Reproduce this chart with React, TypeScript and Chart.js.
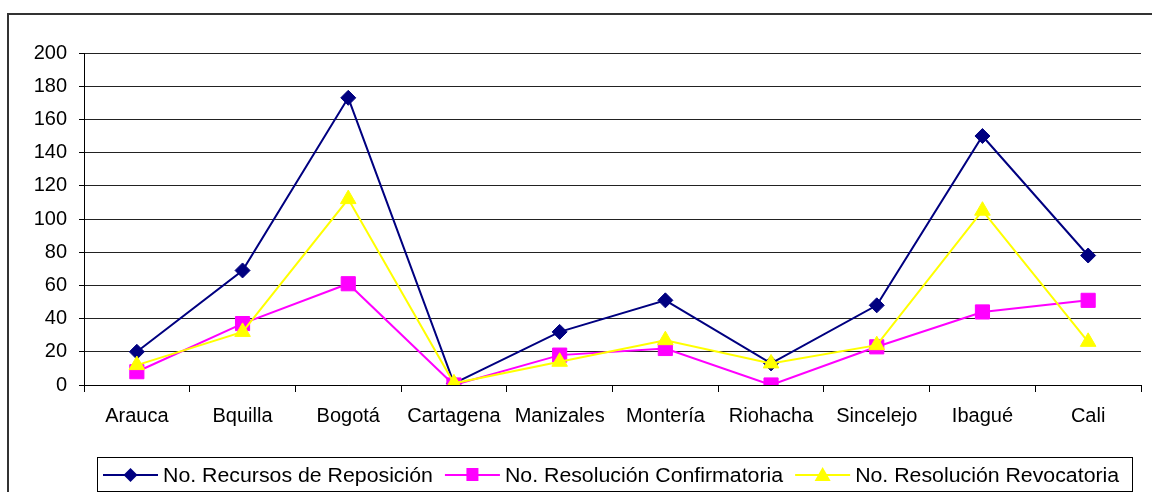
import React, { useEffect, useRef } from "react";
import { Chart, registerables } from "chart.js";

Chart.register(...registerables);

const categories = ["Arauca", "Bquilla", "Bogotá", "Cartagena", "Manizales", "Montería", "Riohacha", "Sincelejo", "Ibagué", "Cali"];
const recursosReposicion = [20, 69, 173, 1, 32, 51, 13, 48, 150, 78];
const resolucionConfirmatoria = [8, 37, 61, 0, 18, 22, 0, 23, 44, 51];
const resolucionRevocatoria = [12, 32, 112, 1, 14, 27, 13, 24, 105, 26];
const seriesNames = ["No. Recursos de Reposición", "No. Resolución Confirmatoria", "No. Resolución Revocatoria"];
const yTicks = [0, 20, 40, 60, 80, 100, 120, 140, 160, 180, 200];

const FONT = '"Liberation Sans", Arial, sans-serif';

const frameAndLegend = {
  id: "frameAndLegend",
  afterDraw(chart: any) {
    const ctx = chart.ctx as CanvasRenderingContext2D;
    ctx.save();
    // outer frame
    ctx.strokeStyle = "#333";
    ctx.lineWidth = 2;
    ctx.beginPath();
    ctx.moveTo(8, 500);
    ctx.lineTo(8, 14);
    ctx.lineTo(1160, 14);
    ctx.stroke();

    // legend
    const boxL = 97, boxT = 457, boxR = 1132, boxB = 491;
    ctx.fillStyle = "#fff";
    ctx.fillRect(boxL, boxT, boxR - boxL, boxB - boxT);
    ctx.strokeStyle = "#000";
    ctx.lineWidth = 1;
    ctx.strokeRect(boxL + 0.5, boxT + 0.5, boxR - boxL, boxB - boxT);

    ctx.font = `20px ${FONT}`;
    ctx.textBaseline = "middle";
    ctx.textAlign = "left";
    const stretch = 1.065;
    const cy = 475;
    let x = 103;
    chart.data.datasets.forEach((ds: any) => {
      const lineLen = 55;
      ctx.strokeStyle = ds.borderColor;
      ctx.lineWidth = 2;
      ctx.beginPath();
      ctx.moveTo(x, cy);
      ctx.lineTo(x + lineLen, cy);
      ctx.stroke();
      const mx = x + lineLen / 2;
      ctx.fillStyle = ds.backgroundColor;
      ctx.beginPath();
      if (ds.pointStyle === "rectRot") {
        ctx.moveTo(mx, cy - 7);
        ctx.lineTo(mx + 7, cy);
        ctx.lineTo(mx, cy + 7);
        ctx.lineTo(mx - 7, cy);
      } else if (ds.pointStyle === "rect") {
        ctx.rect(mx - 6, cy - 7, 12, 13);
      } else {
        ctx.moveTo(mx, cy - 8);
        ctx.lineTo(mx + 8, cy + 6);
        ctx.lineTo(mx - 8, cy + 6);
      }
      ctx.closePath();
      ctx.fill();
      ctx.fillStyle = "#000";
      const tx = x + lineLen + 5;
      ctx.save();
      ctx.translate(tx, cy + 1);
      ctx.scale(stretch, 1);
      ctx.fillText(ds.label, 0, 0);
      ctx.restore();
      x = tx + ctx.measureText(ds.label).width * stretch + 12;
    });
    ctx.restore();
  },
};

export default function App() {
  const ref = useRef<HTMLCanvasElement>(null);
  useEffect(() => {
    if (!ref.current) return;
    const chart = new Chart(ref.current, {
      type: "line",
      data: {
        labels: categories,
        datasets: [
          {
            label: seriesNames[0],
            data: recursosReposicion,
            borderColor: "#000080",
            backgroundColor: "#000080",
            pointStyle: "rectRot",
            pointRadius: 7.5,
            pointBorderWidth: 1,
            borderWidth: 2,
            order: 3,
          },
          {
            label: seriesNames[1],
            data: resolucionConfirmatoria,
            borderColor: "#FF00FF",
            backgroundColor: "#FF00FF",
            pointStyle: "rect",
            pointRadius: 10,
            pointBorderWidth: 1,
            borderWidth: 2,
            order: 2,
          },
          {
            label: seriesNames[2],
            data: resolucionRevocatoria,
            borderColor: "#FFFF00",
            backgroundColor: "#FFFF00",
            pointStyle: "triangle",
            pointRadius: 9,
            pointBorderWidth: 1,
            borderWidth: 2,
            order: 1,
          },
        ],
      },
      options: {
        animation: false,
        responsive: false,
        devicePixelRatio: 1,
        layout: { padding: { left: 0, right: 9, top: 53, bottom: 0 } },
        plugins: { legend: { display: false }, tooltip: { enabled: false }, title: { display: false } },
        elements: { line: { tension: 0 } },
        scales: {
          x: {
            type: "category",
            offset: true,
            grid: {
              offset: true,
              drawOnChartArea: false,
              drawTicks: true,
              tickLength: 7,
              tickColor: "#000",
              color: "#000",
            },
            border: { display: true, color: "#000", width: 1 },
            ticks: { color: "#000", font: { family: FONT, size: 20 }, padding: 12, maxRotation: 0, autoSkip: false },
            afterFit: (s: any) => { s.height = 107; },
          },
          y: {
            min: 0,
            max: 200,
            afterBuildTicks: (s: any) => { s.ticks = yTicks.map((v) => ({ value: v })); },
            grid: { color: "#222", tickLength: 5, tickColor: "#000", lineWidth: 1 },
            border: { display: true, color: "#000", width: 1 },
            ticks: { color: "#000", font: { family: FONT, size: 20 }, padding: 12 },
            afterFit: (s: any) => { s.width = 84; },
          },
        },
      },
      plugins: [frameAndLegend],
    });
    return () => chart.destroy();
  }, []);
  return (
    <div style={{ position: "fixed", left: 0, top: 0, width: 1152, height: 492, background: "#fff" }}>
      <canvas ref={ref} width={1152} height={492} style={{ display: "block", width: 1152, height: 492 }} />
    </div>
  );
}
